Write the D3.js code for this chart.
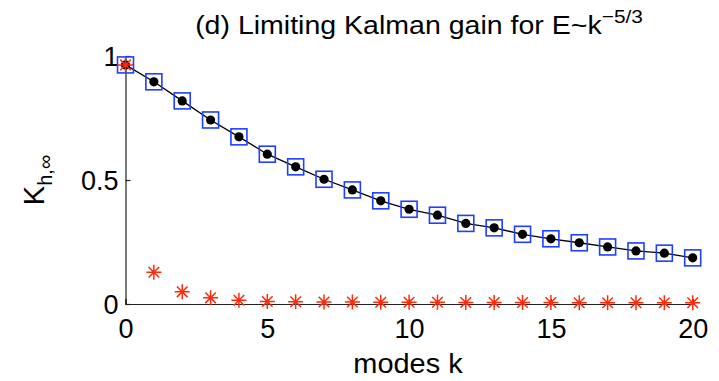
<!DOCTYPE html>
<html><head><meta charset="utf-8">
<script src="https://cdn.jsdelivr.net/npm/d3@7"></script>
<style>body{margin:0;background:#fff}svg{display:block}text{font-family:"Liberation Sans",Arial,Helvetica,sans-serif;fill:#000}</style>
</head><body>
<svg id="c" width="719" height="381"></svg>
<script>
const modes = d3.range(0, 21);
const gainFull = [0.964,0.896,0.819,0.742,0.674,0.604,0.553,0.503,0.460,0.416,0.382,0.358,0.325,0.307,0.281,0.263,0.247,0.230,0.214,0.205,0.186];
const gainApprox = [0.964,0.896,0.819,0.742,0.674,0.604,0.553,0.503,0.460,0.416,0.382,0.358,0.325,0.307,0.281,0.263,0.247,0.230,0.214,0.205,0.186];
const gainOther = [0.964,0.128,0.049,0.025,0.015,0.010,0.009,0.008,0.008,0.007,0.007,0.007,0.006,0.006,0.006,0.006,0.005,0.005,0.005,0.005,0.005];
const xTicks = [0,5,10,15,20];
const yTicks = [0,0.5,1];
const yTickLabels = ["0","0.5","1"];

const svg = d3.select("#c");
const x = d3.scaleLinear().domain([0,20]).range([125.5,692.7]);
const y = d3.scaleLinear().domain([0,1]).range([304,56]);

// axes
const xAxis = d3.axisBottom(x).tickValues(xTicks).tickSize(-5).tickFormat(d3.format("d"));
const yAxis = d3.axisLeft(y).tickValues(yTicks).tickSize(-5).tickFormat((d,i)=>yTickLabels[i]);
const gx = svg.append("g").attr("transform",`translate(0,${y(0)})`).call(xAxis);
const gy = svg.append("g").attr("transform",`translate(${x(0)},0)`).call(yAxis);
[gx,gy].forEach(g=>{
  g.select(".domain").attr("stroke","#222").attr("stroke-width",1.2);
  g.selectAll(".tick line").attr("stroke","#222").attr("stroke-width",1.2);
  g.selectAll("text").style("font-size","27px").attr("fill","#000");
});
gx.selectAll("text").attr("dy",null).attr("y",34);
gy.selectAll("text").attr("dy","0.36em").attr("x",-7);

// line
svg.append("path").datum(modes.map(k=>[k,gainFull[k]]))
  .attr("fill","none").attr("stroke","#000").attr("stroke-width",1.3)
  .attr("d",d3.line().x(d=>x(d[0])).y(d=>y(d[1])));

// squares
svg.append("g").selectAll("rect").data(modes).join("rect")
  .attr("x",k=>x(k)-8).attr("y",k=>y(gainApprox[k])-8)
  .attr("width",16).attr("height",16)
  .attr("fill","#fff").attr("fill-opacity",0).attr("stroke","#1f3fff").attr("stroke-width",1.6);

// dots
svg.append("g").selectAll("circle").data(modes).join("circle")
  .attr("cx",k=>x(k)).attr("cy",k=>y(gainFull[k])).attr("r",4.6).attr("fill","#000");

// stars
const r = 7.5, rd = 5.3;
const starPath = `M${-r},0H${r}M0,${-r}V${r}M${-rd},${-rd}L${rd},${rd}M${-rd},${rd}L${rd},${-rd}`;
svg.append("g").selectAll("path").data(modes).join("path")
  .attr("transform",k=>`translate(${x(k)},${y(gainOther[k])})`)
  .attr("d",starPath).attr("fill","none").attr("stroke","#ff2a0a").attr("stroke-width",1.5);

function fitWidth(sel, cx, target){
  const w = sel.node().getBBox().width;
  const s = target / w;
  sel.attr("transform", `translate(${cx},0) scale(${s},1) translate(${-cx},0)`);
}

// title
const t = svg.append("text").attr("x",419).attr("y",34).attr("text-anchor","middle").style("font-size","26px");
t.append("tspan").text("(d) Limiting Kalman gain for E~k");
t.append("tspan").attr("dy",-11).style("font-size","19px").text("\u22125/3");
fitWidth(t, 419, 448);

// x label
const xl = svg.append("text").attr("x",408).attr("y",373).attr("text-anchor","middle").style("font-size","27px").text("modes k");
fitWidth(xl, 408, 110);

// y label
const yl = svg.append("text").attr("transform","translate(44,180) rotate(-90)").attr("text-anchor","middle").style("font-size","29px");
yl.append("tspan").text("K");
yl.append("tspan").attr("dy",8).style("font-size","20px").text("h,\u221e");
</script>
</body></html>
